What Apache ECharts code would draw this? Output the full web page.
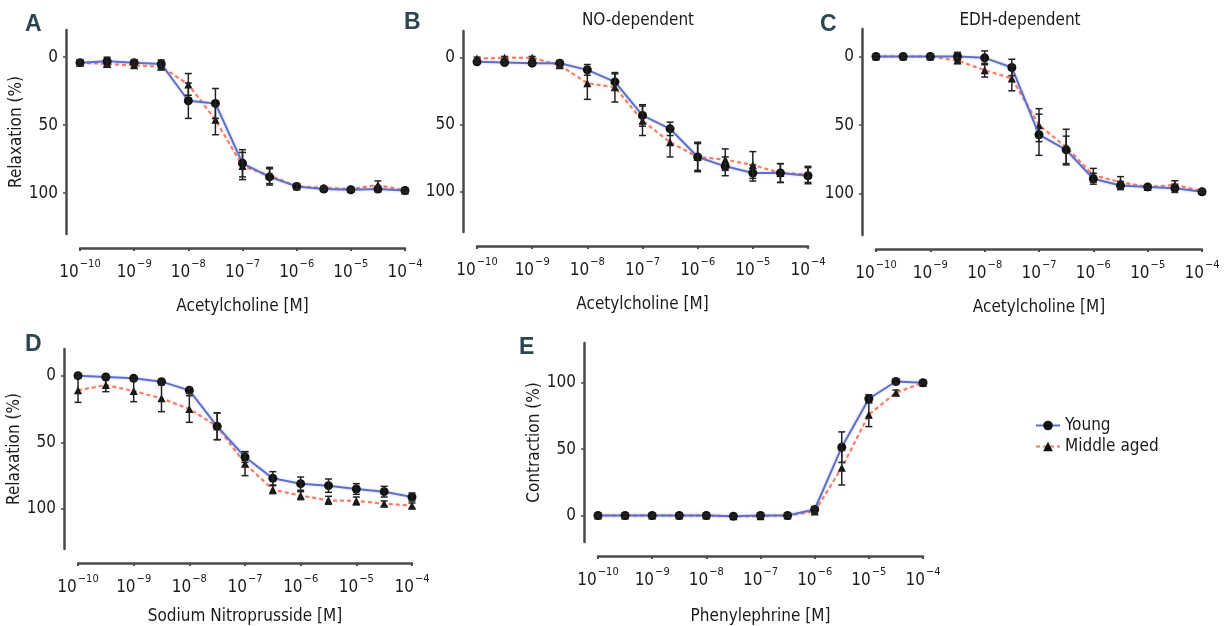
<!DOCTYPE html>
<html><head><meta charset="utf-8">
<script src="https://cdn.jsdelivr.net/npm/echarts@6/dist/echarts.min.js"></script>
<style>html,body{margin:0;padding:0;background:#fff}#c{width:1230px;height:626px}</style>
</head><body><div id="c"></div>
<script>
// log10 concentration [M]
const doses = [-10, -9.5, -9, -8.5, -8, -7.5, -7, -6.5, -6, -5.5, -5, -4.5, -4];
const xTicks = [-10, -9, -8, -7, -6, -5, -4];
const yTicks = [0, 50, 100];
const seriesNames = ['Young', 'Middle aged'];

// Panel A – Acetylcholine
const aYoung    = [4, 3, 4, 5, 32, 34, 78, 88, 95, 97, 97.5, 97, 98];
const aYoungErr = [2, 3, 2, 3, 13, 11, 10, 6, 2, 1, 1, 2, 1];
const aMid      = [4, 5, 6, 7, 20, 46, 80, 87, 95, 96, 97, 94, 98];
const aMidErr   = [2, 2, 2, 2, 8, 11, 10, 6, 2, 1, 1, 3, 1];
// Panel B – NO-dependent
const bYoung    = [3, 3.5, 4, 4, 9, 18, 43, 53, 74, 81, 86, 86, 88];
const bYoungErr = [1, 1, 1, 2, 4, 6, 8, 5, 10, 7, 6, 7, 6];
const bMid      = [0.5, 0, 0, 5.5, 19, 22, 47, 63, 74, 76, 80, 86, 87];
const bMidErr   = [1, 1, 1, 2, 12, 11, 11, 11, 11, 8, 10, 7, 6];
// Panel C – EDH-dependent
const cYoung    = [0, 0, 0, 0, 1, 8, 57, 68, 89, 94, 95, 96, 98.5];
const cYoungErr = [1, 1, 1, 3, 5, 6, 15, 10, 4, 3, 1, 3, 1];
const cMid      = [0, 0, 0, 3, 10, 16, 50, 66, 86.5, 91.5, 95, 93.5, 98];
const cMidErr   = [1, 1, 1, 2, 5, 9, 12, 13, 5, 4, 1, 3, 1];
// Panel D – Sodium Nitroprusside
const dYoung    = [0, 1, 2, 4.5, 11, 38, 61, 77, 81, 82.5, 85, 87, 91];
const dYoungErr = [1, 1, 1, 1, 2, 10, 4, 5, 5, 5, 4, 4, 3];
const dMid      = [11, 7, 11.5, 17, 25, 38, 66, 85.5, 90, 93.5, 94, 96, 97.5];
const dMidErr   = [9, 5, 8, 10, 10, 10, 9, 3, 3, 3, 3, 2, 2];
// Panel E – Phenylephrine
const eYoung    = [0, 0, 0, 0, 0, -0.5, 0, 0, 4.5, 51.5, 88, 101, 100];
const eYoungErr = [1, 1, 1, 1, 1, 1, 1, 1, 2, 11.5, 3, 2, 1];
const eMid      = [0, 0, 0, 0, 0, -0.5, -0.5, 0, 3, 36, 76, 92.5, 100];
const eMidErr   = [1, 1, 1, 1, 1, 1, 1, 1, 2, 13, 9, 2, 1];

const FONT = "'Liberation Sans Narrow', 'DejaVu Sans Condensed', 'Roboto', sans-serif";
const TXT = '#1a1a1a';
const AX = '#4a4a4a';
const BLUE = '#5f6fc6';
const RED = '#f27a66';

const panels = [
  {letter: 'A', title: '', xName: 'Acetylcholine [M]', yName: 'Relaxation (%)', inverse: true, nameGap: 50,
   grid: {left: 80, top: 30, width: 325, height: 204}, young: aYoung, youngErr: aYoungErr, mid: aMid, midErr: aMidErr},
  {letter: 'B', title: 'NO-dependent', xName: 'Acetylcholine [M]', yName: '', inverse: true, nameGap: 50,
   grid: {left: 477, top: 31, width: 331, height: 201}, young: bYoung, youngErr: bYoungErr, mid: bMid, midErr: bMidErr},
  {letter: 'C', title: 'EDH-dependent', xName: 'Acetylcholine [M]', yName: '', inverse: true, nameGap: 50,
   grid: {left: 876, top: 29, width: 326, height: 206}, young: cYoung, youngErr: cYoungErr, mid: cMid, midErr: cMidErr},
  {letter: 'D', title: '', xName: 'Sodium Nitroprusside [M]', yName: 'Relaxation (%)', inverse: true, nameGap: 45,
   grid: {left: 78, top: 349, width: 334, height: 200}, young: dYoung, youngErr: dYoungErr, mid: dMid, midErr: dMidErr},
  {letter: 'E', title: '', xName: 'Phenylephrine [M]', yName: 'Contraction (%)', inverse: false, nameGap: 52,
   grid: {left: 598, top: 343, width: 325, height: 200}, young: eYoung, youngErr: eYoungErr, mid: eMid, midErr: eMidErr}
];

const grids = [], xAxes = [], yAxes = [], series = [], graphics = [];

function errRender(params, api) {
  const x = api.value(0), lo = api.value(1), hi = api.value(2);
  const p1 = api.coord([x, lo]), p2 = api.coord([x, hi]);
  const h = 3.5;
  const st = {stroke: '#222', lineWidth: 1.5};
  return {type: 'group', children: [
    {type: 'line', shape: {x1: p1[0], y1: p1[1], x2: p2[0], y2: p2[1]}, style: st},
    {type: 'line', shape: {x1: p1[0] - h, y1: p1[1], x2: p1[0] + h, y2: p1[1]}, style: st},
    {type: 'line', shape: {x1: p2[0] - h, y1: p2[1], x2: p2[0] + h, y2: p2[1]}, style: st}
  ]};
}

panels.forEach((p, i) => {
  grids.push(Object.assign({containLabel: false}, p.grid));
  xAxes.push({
    type: 'value', gridIndex: i, min: -10, max: -4, interval: 1, offset: 14,
    axisLine: {show: true, onZero: false, lineStyle: {color: AX, width: 2.5}},
    axisTick: {show: true, length: 3, lineStyle: {color: AX, width: 2}},
    splitLine: {show: false},
    axisLabel: {
      margin: 11, color: TXT, fontFamily: FONT,
      customValues: xTicks,
      formatter: v => '{b|10}{s|\u2212' + Math.abs(v) + '}',
      rich: {
        b: {fontSize: 17, fontFamily: FONT, color: TXT, lineHeight: 22, verticalAlign: 'bottom'},
        s: {fontSize: 11, fontFamily: FONT, color: TXT, lineHeight: 14, verticalAlign: 'top', padding: [0, 0, 0, 1]}
      }
    },
    name: p.xName, nameLocation: 'middle', nameGap: p.nameGap,
    nameTextStyle: {fontSize: 17, fontFamily: FONT, color: TXT}
  });
  yAxes.push({
    type: 'value', gridIndex: i, min: -20, max: 130, inverse: p.inverse, offset: 14,
    axisLine: {show: true, lineStyle: {color: AX, width: 2.5}},
    axisTick: {show: true, customValues: yTicks, length: 3, lineStyle: {color: AX, width: 1.5}},
    splitLine: {show: false},
    axisLabel: {customValues: yTicks, margin: 8, fontSize: 17, fontFamily: FONT, color: TXT},
    name: p.yName, nameLocation: 'middle', nameGap: 40,
    nameTextStyle: {fontSize: 17, fontFamily: FONT, color: TXT}
  });
  series.push({
    name: seriesNames[0], type: 'line', xAxisIndex: i, yAxisIndex: i,
    data: doses.map((d, k) => [d, p.young[k]]),
    symbol: 'circle', symbolSize: 9, z: 4,
    itemStyle: {color: '#111'},
    lineStyle: {color: BLUE, width: 2, shadowColor: 'rgba(95,111,198,0.35)', shadowBlur: 3},
    emphasis: {disabled: true}, animation: false
  });
  series.push({
    name: seriesNames[1], type: 'line', xAxisIndex: i, yAxisIndex: i,
    data: doses.map((d, k) => [d, p.mid[k]]),
    symbol: 'triangle', symbolSize: 8, z: 3,
    itemStyle: {color: '#111'},
    lineStyle: {color: RED, width: 2, type: [4, 3], shadowColor: 'rgba(242,122,102,0.35)', shadowBlur: 3},
    emphasis: {disabled: true}, animation: false
  });
  series.push({
    type: 'custom', xAxisIndex: i, yAxisIndex: i, z: 5, silent: true,
    renderItem: errRender, animation: false,
    data: doses.map((d, k) => [d, p.young[k] - p.youngErr[k], p.young[k] + p.youngErr[k]])
  });
  series.push({
    type: 'custom', xAxisIndex: i, yAxisIndex: i, z: 5, silent: true,
    renderItem: errRender, animation: false,
    data: doses.map((d, k) => [d, p.mid[k] - p.midErr[k], p.mid[k] + p.midErr[k]])
  });
});

const letterPos = [[25, 13], [404, 11], [820, 13], [25, 333], [519, 336]];
panels.forEach((p, i) => {
  graphics.push({type: 'text', left: letterPos[i][0], top: letterPos[i][1],
    style: {text: p.letter, fontSize: 23, fontWeight: 'bold', fontFamily: "'Liberation Sans', 'DejaVu Sans', sans-serif", fill: '#2c4650'}});
});
const titlePos = [null, [638, 12], [1020, 12]];
panels.forEach((p, i) => {
  if (p.title) graphics.push({type: 'text', x: titlePos[i][0], y: titlePos[i][1],
    style: {text: p.title, fontSize: 17, fontFamily: FONT, fill: TXT, align: 'center', verticalAlign: 'top'}});
});

const chart = echarts.init(document.getElementById('c'), null, {renderer: 'canvas'});
chart.setOption({
  backgroundColor: '#fff',
  animation: false,
  grid: grids, xAxis: xAxes, yAxis: yAxes, series: series,
  legend: {
    data: seriesNames, orient: 'vertical', left: 1030, top: 412, itemGap: 4,
    itemWidth: 24, itemHeight: 12, selectedMode: false,
    textStyle: {fontSize: 17, fontFamily: FONT, color: TXT}
  },
  graphic: graphics
});
</script></body></html>
